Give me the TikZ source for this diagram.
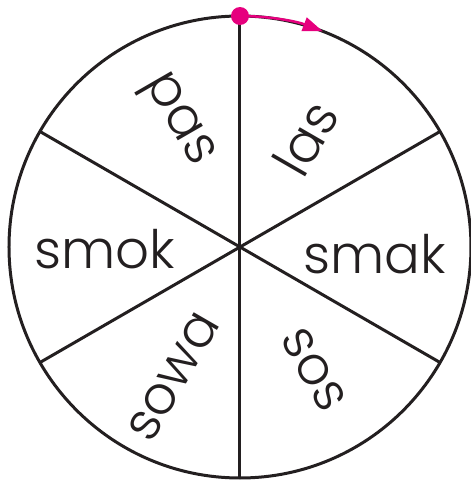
\documentclass[tikz,border=0pt]{standalone}
\usepackage{fontspec}
\setmainfont{Poppins}[UprightFont=* Light]
\usetikzlibrary{arrows.meta}
\definecolor{wheelpink}{HTML}{E6007E}
\definecolor{wheelink}{HTML}{231F20}
\begin{document}
\begin{tikzpicture}[
    x=1pt, y=1pt,
    every node/.style={font=\fontsize{53}{60}\selectfont, text=wheelink, inner sep=0pt},
    rim/.style={draw=wheelink, line width=3pt},
    spoke/.style={draw=wheelink, line width=3pt},
    startdot/.style={circle, fill=wheelpink, minimum size=18pt, inner sep=0pt},
    pointer/.style={-{Triangle[length=20pt, width=14pt]}, draw=wheelpink, line width=2.5pt}
]
    \useasboundingbox (-240,-236) rectangle (231,247);
    \coordinate (hub) at (0,0);
    \draw[rim] (hub) circle (231);

    % spokes
    \foreach \a in {30,90,150,210,270,330} {
        \coordinate (rim\a) at (\a:231);
        \draw[spoke] (hub) -- (rim\a);
    }

    % words
    \node[rotate=-60] (pas) at (117:141) {pas};
    \node[rotate=60] (las) at (59:127) {las};
    \node (smak) at (-3:135) {smak};
    \node (smok) at (181:135) {smok};
    \node[rotate=60] (sowa) at (243:146) {sowa};
    \node[rotate=-60] (sos) at (301:143) {sos};

    % pointer
    \node[startdot] (start) at (rim90) {};
    \draw[pointer] (start.center) arc[start angle=90, end angle=69, radius=231];
\end{tikzpicture}
\end{document}
